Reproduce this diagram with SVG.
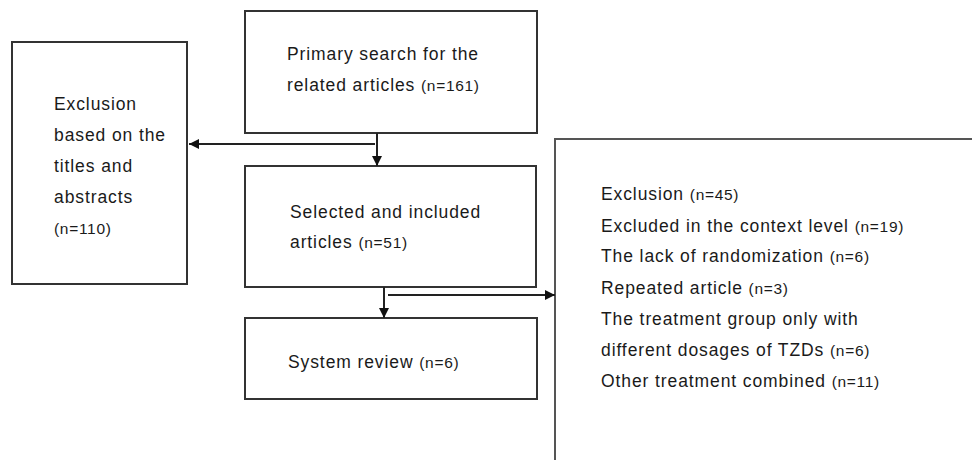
<svg xmlns="http://www.w3.org/2000/svg" width="972" height="460" viewBox="0 0 972 460">
<style>
.box{fill:#fff;stroke:#333;stroke-width:2}
.t{font-family:"Liberation Sans",Arial,sans-serif;font-size:17.5px;letter-spacing:0.9px;fill:#1a1a1a}
.s{font-size:15.5px;letter-spacing:0.7px}
.ln{fill:none;stroke:#222;stroke-width:2}
</style>
<defs>
<marker id="ah" viewBox="0 0 10 10" refX="10" refY="5" markerWidth="10" markerHeight="10" markerUnits="userSpaceOnUse" orient="auto">
<path d="M0,0 L10,5 L0,10 z" fill="#111"/>
</marker>
<marker id="ahw" viewBox="0 0 10 10" refX="10" refY="5" markerWidth="14" markerHeight="10" markerUnits="userSpaceOnUse" orient="auto">
<path d="M0,0 L10,5 L0,10 z" fill="#111"/>
</marker>
</defs>
<rect width="972" height="460" fill="#fff"/>
<g id="n-primary">
<rect class="box" x="245" y="11" width="292" height="122"/>
<text class="t" x="287" y="60">Primary search for the</text>
<text class="t" x="287" y="91">related articles <tspan class="s">(n=161)</tspan></text>
</g>
<g id="n-exclusion-titles">
<rect class="box" x="12" y="42" width="175" height="242"/>
<text class="t" x="54" y="110">Exclusion</text>
<text class="t" x="54" y="141">based on the</text>
<text class="t" x="54" y="172">titles and</text>
<text class="t" x="54" y="203">abstracts</text>
<text class="t" x="54" y="234"><tspan class="s">(n=110)</tspan></text>
</g>
<g id="n-selected">
<rect class="box" x="245" y="166" width="291" height="121"/>
<text class="t" x="290" y="218">Selected and included</text>
<text class="t" x="290" y="248">articles <tspan class="s">(n=51)</tspan></text>
</g>
<g id="n-review">
<rect class="box" x="245" y="318" width="292" height="81"/>
<text class="t" x="288" y="368">System review <tspan class="s">(n=6)</tspan></text>
</g>
<g id="n-exclusion-45">
<path d="M974,139 L555,139 L555,462" fill="#fff" stroke="#555" stroke-width="2"/>
<text class="t" x="601" y="200">Exclusion <tspan class="s">(n=45)</tspan></text>
<text class="t" x="601" y="232">Excluded in the context level <tspan class="s">(n=19)</tspan></text>
<text class="t" x="601" y="262">The lack of randomization <tspan class="s">(n=6)</tspan></text>
<text class="t" x="601" y="294">Repeated article <tspan class="s">(n=3)</tspan></text>
<text class="t" x="601" y="325">The treatment group only with</text>
<text class="t" x="601" y="356">different dosages of TZDs <tspan class="s">(n=6)</tspan></text>
<text class="t" x="601" y="387">Other treatment combined <tspan class="s">(n=11)</tspan></text>
</g>
<g id="connectors">
<line class="ln" x1="377" y1="133" x2="377" y2="166" marker-end="url(#ah)"/>
<line class="ln" x1="375" y1="144" x2="189" y2="144" marker-end="url(#ahw)"/>
<line class="ln" x1="384" y1="287" x2="384" y2="318" marker-end="url(#ah)"/>
<line class="ln" x1="388" y1="295" x2="555" y2="295" marker-end="url(#ahw)"/>
</g>
</svg>
